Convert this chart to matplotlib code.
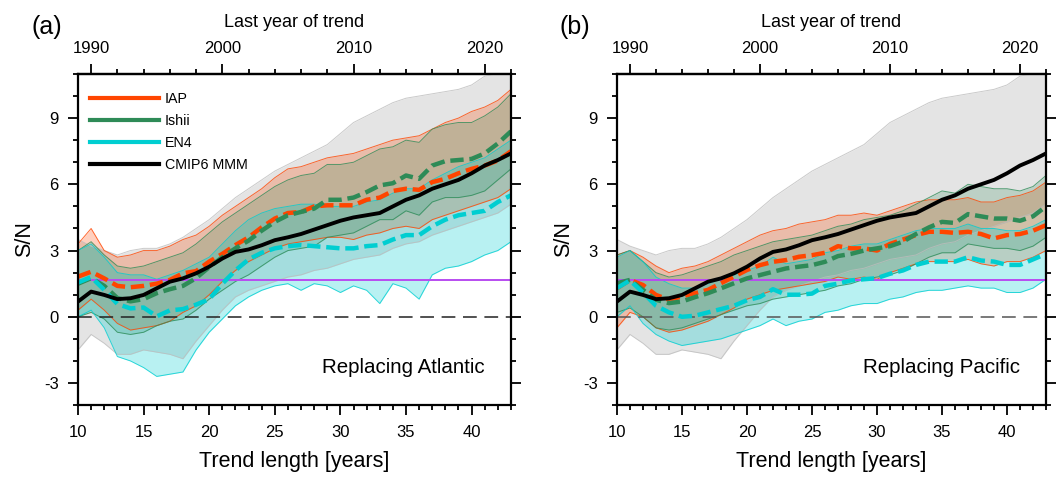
import numpy as np
import matplotlib
matplotlib.use("Agg")
import matplotlib.pyplot as plt
from matplotlib.lines import Line2D
from matplotlib.ticker import MultipleLocator, FixedLocator

plt.rcParams['font.family'] = ['Liberation Sans', 'DejaVu Sans']
plt.rcParams['axes.unicode_minus'] = False

# trend length [years]; last year of trend = length + 1979
trend_len = np.arange(10, 44)

# CMIP6 multi-model mean (same in both panels)
cmip_mmm = [0.69, 1.14, 0.99, 0.80, 0.84, 0.99, 1.29, 1.59, 1.74, 1.97, 2.27, 2.64, 2.94, 3.05, 3.24, 3.47, 3.60,
            3.75, 3.95, 4.15, 4.35, 4.50, 4.60, 4.70, 5.00, 5.30, 5.50, 5.80, 6.00, 6.20, 6.50, 6.85, 7.10, 7.40]
# spread of the individual model members
cmip_hi = [3.5, 3.2, 3.0, 2.8, 3.0, 3.1, 3.1, 3.3, 3.6, 4.0, 4.4, 4.9, 5.4, 5.8, 6.2, 6.6, 6.9,
           7.2, 7.5, 7.8, 8.3, 8.8, 9.1, 9.4, 9.7, 9.9, 10.0, 10.1, 10.2, 10.3, 10.5, 10.9, 11.0, 11.2]
cmip_lo = [-1.5, -0.8, -1.2, -1.7, -1.7, -1.5, -1.6, -1.7, -1.9, -1.1, -0.4, 0.3, 0.9, 1.2, 1.4, 1.6, 1.8,
           1.9, 2.1, 2.2, 2.4, 2.6, 2.7, 2.8, 3.1, 3.3, 3.4, 3.7, 3.9, 4.1, 4.3, 4.5, 4.7, 5.1]

# (a) Replacing Atlantic
iap_a = [1.82, 2.04, 1.74, 1.40, 1.34, 1.40, 1.50, 1.67, 1.97, 2.07, 2.50, 2.85, 3.25, 3.60, 4.05, 4.45, 4.70,
         4.75, 5.00, 5.05, 5.05, 5.05, 5.30, 5.40, 5.70, 5.80, 5.75, 6.10, 6.25, 6.50, 6.70, 6.85, 7.08, 7.50]
iap_hi_a = [3.3, 4.0, 3.0, 2.7, 2.8, 3.0, 3.0, 3.2, 3.5, 3.7, 4.1, 4.6, 5.0, 5.4, 5.8, 6.3, 6.7,
            6.8, 7.0, 7.2, 7.3, 7.4, 7.6, 7.8, 8.0, 8.1, 8.2, 8.5, 8.8, 9.0, 9.3, 9.5, 9.8, 10.3]
iap_lo_a = [0.3, 0.8, 0.3, -0.3, -0.6, -0.5, -0.4, -0.2, 0.2, 0.5, 1.0, 1.6, 2.1, 2.5, 2.8, 3.1, 3.3,
            3.4, 3.5, 3.6, 3.6, 3.5, 3.7, 3.8, 4.0, 4.1, 4.0, 4.4, 4.6, 4.8, 5.0, 5.2, 5.4, 5.8]
ishii_a = [1.50, 1.75, 1.40, 0.85, 0.70, 0.80, 1.07, 1.25, 1.40, 1.75, 2.25, 2.70, 3.10, 3.45, 3.90, 4.30, 4.60,
           4.75, 4.90, 5.30, 5.30, 5.40, 5.65, 5.95, 6.05, 6.40, 6.25, 6.85, 7.05, 7.10, 7.15, 7.40, 7.85, 8.40]
ishii_hi_a = [3.0, 3.4, 2.8, 2.3, 2.2, 2.3, 2.5, 2.7, 2.9, 3.3, 3.8, 4.3, 4.7, 5.1, 5.5, 5.9, 6.2,
              6.4, 6.5, 6.9, 6.9, 7.0, 7.3, 7.6, 7.7, 8.0, 7.9, 8.5, 8.7, 8.8, 8.8, 9.1, 9.5, 10.1]
ishii_lo_a = [0.0, 0.2, -0.1, -0.7, -0.8, -0.7, -0.4, -0.2, -0.1, 0.3, 0.8, 1.2, 1.6, 1.9, 2.3, 2.7, 3.0,
              3.1, 3.2, 3.6, 3.7, 3.8, 4.1, 4.4, 4.4, 4.8, 4.6, 5.2, 5.4, 5.4, 5.5, 5.7, 6.2, 6.7]
en4_a = [1.55, 1.80, 1.22, 0.58, 0.38, 0.42, 0.02, 0.29, 0.35, 0.55, 0.80, 1.50, 2.10, 2.60, 2.90, 3.10, 3.20,
         3.25, 3.20, 3.15, 3.10, 3.10, 3.20, 3.25, 3.50, 3.70, 3.70, 4.10, 4.40, 4.60, 4.70, 4.80, 5.20, 5.50]
en4_hi_a = [3.0, 3.3, 2.7, 2.0, 1.9, 1.9, 1.7, 1.9, 2.1, 2.4, 2.7, 3.3, 3.9, 4.4, 4.7, 4.9, 5.0,
            5.1, 5.1, 5.0, 5.0, 5.0, 5.2, 5.3, 5.6, 5.8, 5.8, 6.2, 6.5, 6.8, 7.0, 7.2, 7.6, 8.0]
en4_lo_a = [0.0, 0.3, -0.5, -1.8, -2.0, -2.3, -2.7, -2.6, -2.5, -1.5, -0.7, -0.1, 0.5, 0.9, 1.2, 1.4, 1.5,
            1.2, 1.5, 1.4, 1.1, 1.4, 1.2, 0.6, 1.5, 1.3, 0.8, 1.9, 2.2, 2.3, 2.5, 2.8, 3.0, 3.4]

# (b) Replacing Pacific
iap_b = [1.29, 1.67, 1.44, 0.99, 0.77, 0.92, 1.07, 1.22, 1.52, 1.82, 2.12, 2.34, 2.49, 2.57, 2.72, 2.79, 2.90,
         3.20, 3.10, 3.10, 3.00, 3.30, 3.50, 3.70, 3.85, 3.85, 3.80, 3.85, 3.75, 3.55, 3.70, 3.75, 3.90, 4.15]
iap_hi_b = [2.8, 3.0, 2.7, 2.3, 2.0, 2.2, 2.3, 2.5, 2.8, 3.1, 3.4, 3.7, 3.9, 4.0, 4.2, 4.3, 4.4,
            4.6, 4.6, 4.7, 4.6, 4.8, 5.0, 5.2, 5.3, 5.3, 5.3, 5.4, 5.2, 5.2, 5.4, 5.5, 5.7, 6.1]
iap_lo_b = [-0.5, 0.2, 0.0, -0.5, -0.7, -0.6, -0.4, -0.2, 0.1, 0.4, 0.8, 1.0, 1.2, 1.3, 1.4, 1.5, 1.6,
            1.8, 1.7, 1.8, 1.7, 2.0, 2.2, 2.4, 2.5, 2.5, 2.5, 2.6, 2.4, 2.3, 2.5, 2.5, 2.7, 3.0]
ishii_b = [1.52, 1.67, 1.22, 0.77, 0.62, 0.69, 0.89, 1.07, 1.29, 1.52, 1.74, 1.89, 2.04, 2.19, 2.27, 2.34, 2.49,
           2.75, 2.85, 3.00, 3.10, 3.20, 3.40, 3.75, 4.05, 4.30, 4.25, 4.65, 4.55, 4.45, 4.45, 4.35, 4.55, 5.00]
ishii_hi_b = [2.8, 3.0, 2.5, 2.0, 1.8, 1.9, 2.1, 2.3, 2.5, 2.8, 3.0, 3.2, 3.4, 3.5, 3.6, 3.7, 3.9,
              4.1, 4.2, 4.4, 4.5, 4.6, 4.8, 5.1, 5.4, 5.7, 5.6, 6.0, 5.9, 5.8, 5.8, 5.7, 5.9, 6.4]
ishii_lo_b = [0.2, 0.4, 0.0, -0.5, -0.6, -0.5, -0.3, -0.1, 0.1, 0.3, 0.5, 0.6, 0.8, 0.9, 1.0, 1.1, 1.2,
              1.4, 1.5, 1.7, 1.8, 1.9, 2.1, 2.4, 2.7, 2.9, 2.9, 3.3, 3.2, 3.1, 3.1, 3.0, 3.2, 3.6]
en4_b = [1.30, 1.65, 1.10, 0.50, 0.20, 0.00, 0.05, 0.20, 0.35, 0.50, 0.75, 0.90, 1.25, 1.00, 1.00, 1.05, 1.40,
         1.50, 1.65, 1.70, 1.75, 1.95, 2.10, 2.35, 2.50, 2.50, 2.50, 2.70, 2.55, 2.50, 2.35, 2.35, 2.60, 2.85]
en4_hi_b = [2.7, 3.0, 2.5, 1.8, 1.5, 1.3, 1.3, 1.5, 1.7, 1.9, 2.1, 2.3, 2.7, 2.4, 2.5, 2.6, 2.9,
            3.0, 3.2, 3.3, 3.3, 3.5, 3.7, 3.9, 4.0, 4.0, 4.0, 4.2, 4.0, 4.0, 3.9, 3.9, 4.1, 4.4]
en4_lo_b = [0.0, 0.5, -0.3, -0.8, -1.1, -1.3, -1.2, -1.1, -1.0, -0.8, -0.6, -0.4, -0.1, -0.4, -0.2, -0.1, 0.2,
            0.3, 0.5, 0.6, 0.6, 0.8, 0.9, 1.1, 1.2, 1.2, 1.3, 1.4, 1.3, 1.3, 1.1, 1.1, 1.3, 1.7]

sig_level = 1.645
year_offset = 1979

c_iap = "#ff4500"
c_ishii = "#2e8b57"
c_en4 = "#00ced1"
c_grey = "#bdbdbd"


def spread(ax, lo, hi, color, alpha):
    ax.fill_between(trend_len, lo, hi, color=color, alpha=alpha, lw=0)
    ax.plot(trend_len, lo, color=color, lw=0.7, alpha=0.8)
    ax.plot(trend_len, hi, color=color, lw=0.7, alpha=0.8)


def panel(ax, obs, text, zero_col, legend=False):
    spread(ax, cmip_lo, cmip_hi, c_grey, 0.4)
    for (mean, lo, hi), col, al in zip(obs, [c_iap, c_ishii, c_en4], [0.25, 0.22, 0.28]):
        spread(ax, lo, hi, col, al)
    ax.axhline(sig_level, color="#b84cf0", lw=1.4)
    ax.axhline(0, color=zero_col, lw=1.1, dashes=(9, 5))
    for (mean, lo, hi), col in zip(obs, [c_iap, c_ishii, c_en4]):
        ax.plot(trend_len, mean, color=col, lw=3.2, dashes=(3.0, 1.3))
    ax.plot(trend_len, cmip_mmm, color="black", lw=2.8)

    ax.set_xlim(10, 43)
    ax.set_ylim(-4, 11)
    ax.xaxis.set_major_locator(MultipleLocator(5))
    ax.xaxis.set_minor_locator(MultipleLocator(1))
    ax.yaxis.set_major_locator(FixedLocator([-3, 0, 3, 6, 9]))
    ax.yaxis.set_minor_locator(MultipleLocator(1))
    ax.tick_params(which="both", direction="out", right=True, top=False, width=1.3)
    ax.tick_params(which="major", length=7, labelsize=12, pad=7)
    ax.tick_params(which="minor", length=3.5)
    for s in ax.spines.values():
        s.set_linewidth(1.6)
    ax.set_xlabel("Trend length [years]", fontsize=15.5, labelpad=8)
    ax.set_ylabel("S/N", fontsize=15.5, labelpad=6)

    top = ax.secondary_xaxis("top", functions=(lambda v: v + year_offset, lambda v: v - year_offset))
    top.xaxis.set_major_locator(FixedLocator([1990, 2000, 2010, 2020]))
    top.xaxis.set_minor_locator(FixedLocator(np.arange(1990, 2023, 2)))
    top.tick_params(which="both", direction="out", width=1.3)
    top.tick_params(which="major", length=7, labelsize=12, pad=6)
    top.tick_params(which="minor", length=3.5)
    top.spines["top"].set_linewidth(1.6)
    top.set_xlabel("Last year of trend", fontsize=13, labelpad=10)

    ax.text(0.94, 0.115, text, transform=ax.transAxes, ha="right", va="center", fontsize=14.8)

    if legend:
        handles = [Line2D([], [], color=c_iap, lw=3),
                   Line2D([], [], color=c_ishii, lw=3),
                   Line2D([], [], color=c_en4, lw=3),
                   Line2D([], [], color="black", lw=3)]
        ax.legend(handles, ["IAP", "Ishii", "EN4", "CMIP6 MMM"], loc="upper left",
                  bbox_to_anchor=(0.028, 0.945), frameon=False, fontsize=10.3,
                  handlelength=4.8, handletextpad=0.4, labelspacing=0.55,
                  borderpad=0, borderaxespad=0)


fig = plt.figure(figsize=(10.57, 4.8), dpi=100)
ax_a = fig.add_axes([0.0738, 0.156, 0.4096, 0.690])
ax_b = fig.add_axes([0.5837, 0.156, 0.4059, 0.690])

panel(ax_a, [(iap_a, iap_lo_a, iap_hi_a), (ishii_a, ishii_lo_a, ishii_hi_a), (en4_a, en4_lo_a, en4_hi_a)],
      "Replacing Atlantic", "#222222", legend=True)
panel(ax_b, [(iap_b, iap_lo_b, iap_hi_b), (ishii_b, ishii_lo_b, ishii_hi_b), (en4_b, en4_lo_b, en4_hi_b)],
      "Replacing Pacific", "#555555")

fig.text(0.030, 0.944, "(a)", fontsize=18, ha="left", va="center")
fig.text(0.529, 0.944, "(b)", fontsize=18, ha="left", va="center")

fig.savefig("out.png", dpi=100)
